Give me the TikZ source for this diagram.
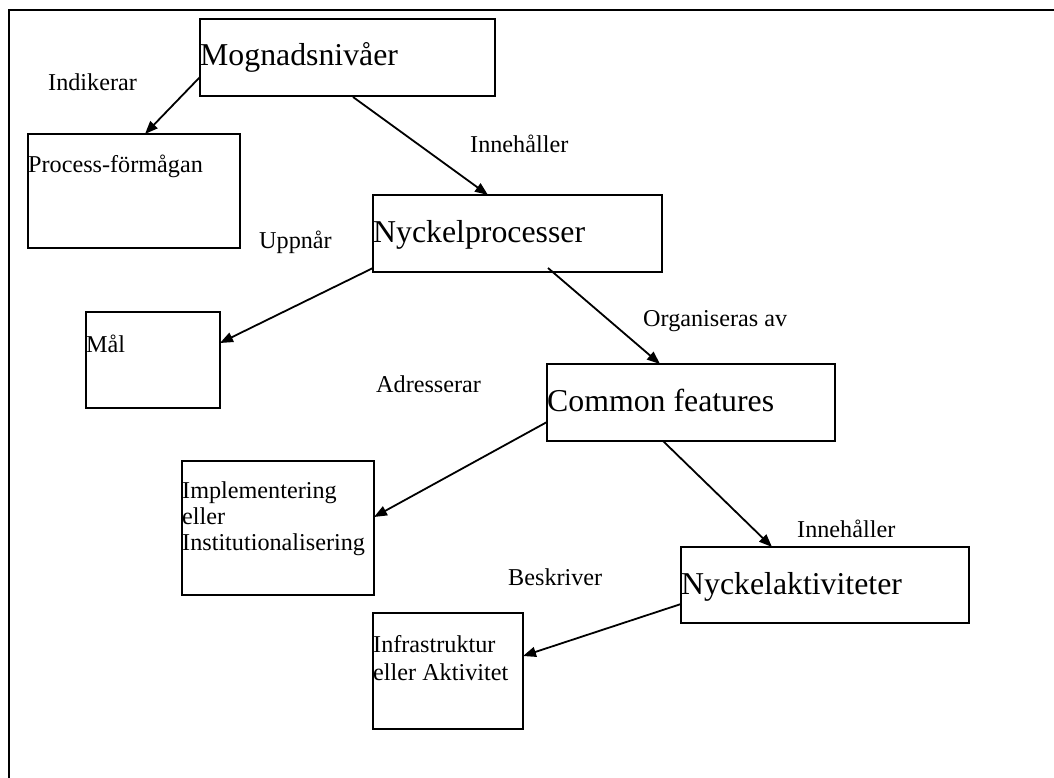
\documentclass[tikz,border=0pt]{standalone}
\usepackage{fontspec}
\setmainfont{Liberation Serif}
\usetikzlibrary{arrows.meta,calc}
\tikzset{
  box/.style={draw, line width=2pt, rectangle, inner sep=0pt, outer sep=0pt, anchor=north west},
  big/.style={inner sep=0pt, anchor=base west, font=\fontsize{31.8}{36}\selectfont},
  small/.style={inner sep=0pt, anchor=base west, font=\fontsize{24.2}{27}\selectfont},
  lbl/.style={inner sep=0pt, anchor=base west, font=\fontsize{24.2}{27}\selectfont},
  conn/.style={line width=1.8pt, -{Triangle[length=13pt,width=10pt]}}
}
\begin{document}
\begin{tikzpicture}[x=1pt,y=-1pt]
\useasboundingbox (0,0) rectangle (1054,778);
\fill[white] (0,0) rectangle (1054,778);
\coordinate (fa) at (9,778);
\coordinate (fb) at (9,10);
\coordinate (fc) at (1054,10);
\draw[line width=2.2pt] (fa) -- (fb) -- (fc);
% boxes
\node[box, minimum width=295pt, minimum height=77pt] (m) at (200,19) {};
\node[box, minimum width=212pt, minimum height=114pt] (p) at (28,134) {};
\node[box, minimum width=289pt, minimum height=77pt] (n) at (373,195) {};
\node[box, minimum width=134pt, minimum height=96pt] (g) at (86,312) {};
\node[box, minimum width=288pt, minimum height=77pt] (c) at (547,364) {};
\node[box, minimum width=192pt, minimum height=134pt] (i) at (182,461) {};
\node[box, minimum width=288pt, minimum height=76pt] (a) at (681,547) {};
\node[box, minimum width=150pt, minimum height=116pt] (r) at (373,613) {};
% box texts
\node[big] (mt) at (200,66) {Mognadsnivåer};
\node[small] (pt) at (28,173) {Process-förmågan};
\node[big] (nt) at (373,242) {Nyckelprocesser};
\node[small] (gt) at (86,352) {Mål};
\node[big] (ct) at (547,411) {Common features};
\node[small] (it1) at (182,498) {Implementering};
\node[small] (it2) at (182,524) {eller};
\node[small] (it3) at (182,550) {Institutionalisering};
\node[big] (at) at (681,594) {Nyckelaktiviteter};
\node[small] (rt1) at (373,652) {Infrastruktur};
\node[small] (rt2) at (373,680) {eller Aktivitet};
% labels
\node[lbl] (l1) at (48,91) {Indikerar};
\node[lbl] (l2) at (470,153) {Innehåller};
\node[lbl] (l3) at (259,248) {Uppnår};
\node[lbl] (l4) at (643,326) {Organiseras av};
\node[lbl] (l5) at (376,392) {Adresserar};
\node[lbl] (l6) at (797,537) {Innehåller};
\node[lbl] (l7) at (508,585) {Beskriver};
% connectors
\draw[conn] ($(m.north west)+(0,58)$) -- ($(p.north west)+(117,0)$);
\draw[conn] ($(m.south west)+(153,1)$) -- ($(n.north west)+(115,0)$);
\draw[conn] ($(n.north west)+(0,73)$) -- ($(g.north east)+(0,31)$);
\draw[conn] ($(n.south west)+(175,-4)$) -- ($(c.north west)+(113,0)$);
\draw[conn] ($(c.north west)+(0,58)$) -- ($(i.north east)+(0,56)$);
\draw[conn] ($(c.south west)+(116,0)$) -- ($(a.north west)+(91,0)$);
\draw[conn] ($(a.north west)+(0,57)$) -- ($(r.north east)+(0,43)$);
\end{tikzpicture}
\end{document}
